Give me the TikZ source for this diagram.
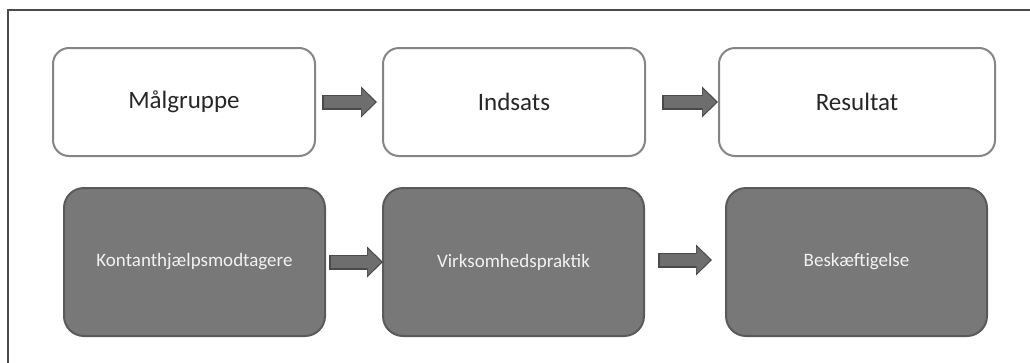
\documentclass[tikz,border=0pt]{standalone}
\usepackage{fontspec}
\setmainfont{Carlito}
\usepackage{tikz}
\usetikzlibrary{positioning}
\usetikzlibrary{arrows.meta}

\definecolor{frameline}{HTML}{4A4A4A}
\definecolor{headline}{HTML}{858585}
\definecolor{itemfill}{HTML}{787878}
\definecolor{itemline}{HTML}{5A5A5A}
\definecolor{flowfill}{HTML}{6E6E6E}
\definecolor{flowline}{HTML}{4A4A4A}

\begin{document}
\begin{tikzpicture}[x=1pt, y=-1pt,
        head/.style={rectangle, rounded corners=16pt, draw=headline, fill=white, line width=2pt, minimum width=262pt, minimum height=108pt, font=\fontsize{25}{30}\selectfont, text=black!85},
        item/.style={rectangle, rounded corners=20pt, draw=itemline, fill=itemfill, line width=2pt, minimum width=261pt, minimum height=148pt, font=\fontsize{19}{23}\selectfont, text=black!5},
        flowrim/.style={draw=flowline, line width=15pt, -{Triangle[width=31pt, length=16pt, line width=0pt]}},
        flow/.style={draw=flowfill, line width=12pt, -{Triangle[width=26.5pt, length=13.5pt, line width=0pt]}, shorten >=1.8pt, shorten <=1.5pt}
      ]
        \useasboundingbox (0,0) rectangle (1030,362);
        \draw[frameline, line width=1.5pt] (8,10) rectangle (1050,380);

        \node[head]  (mal)  at(184, 102)                        {Målgruppe};
        \node[head]  (ind)  [right=66pt of mal]                 {Indsats};
        \node[head, minimum width=276pt]  (res)  [right=72pt of ind]  {Resultat};

        \node[item]  (kon)  at(194.5, 262)                      {Kontanthjælpsmodtagere};
        \node[item]  (vir)  [right=56pt of kon]                 {Virksomhedspraktik};
        \node[item]  (besk) [right=80pt of vir]                 {Beskæftigelse};

        \draw[flowrim]  ([xshift=6pt]mal.east) -- ([xshift=-5pt]ind.west);
        \draw[flow]     ([xshift=6pt]mal.east) -- ([xshift=-5pt]ind.west);
        \draw[flowrim]  ([xshift=16pt]ind.east) -- (res.west);
        \draw[flow]     ([xshift=16pt]ind.east) -- (res.west);

        \draw[flowrim]  ([xshift=3pt]kon.east) -- ([xshift=1pt]vir.west);
        \draw[flow]     ([xshift=3pt]kon.east) -- ([xshift=1pt]vir.west);
        \draw[flowrim]  ([xshift=13pt, yshift=2pt]vir.east) -- ([xshift=-13pt, yshift=2pt]besk.west);
        \draw[flow]     ([xshift=13pt, yshift=2pt]vir.east) -- ([xshift=-13pt, yshift=2pt]besk.west);
      \end{tikzpicture}
\end{document}
